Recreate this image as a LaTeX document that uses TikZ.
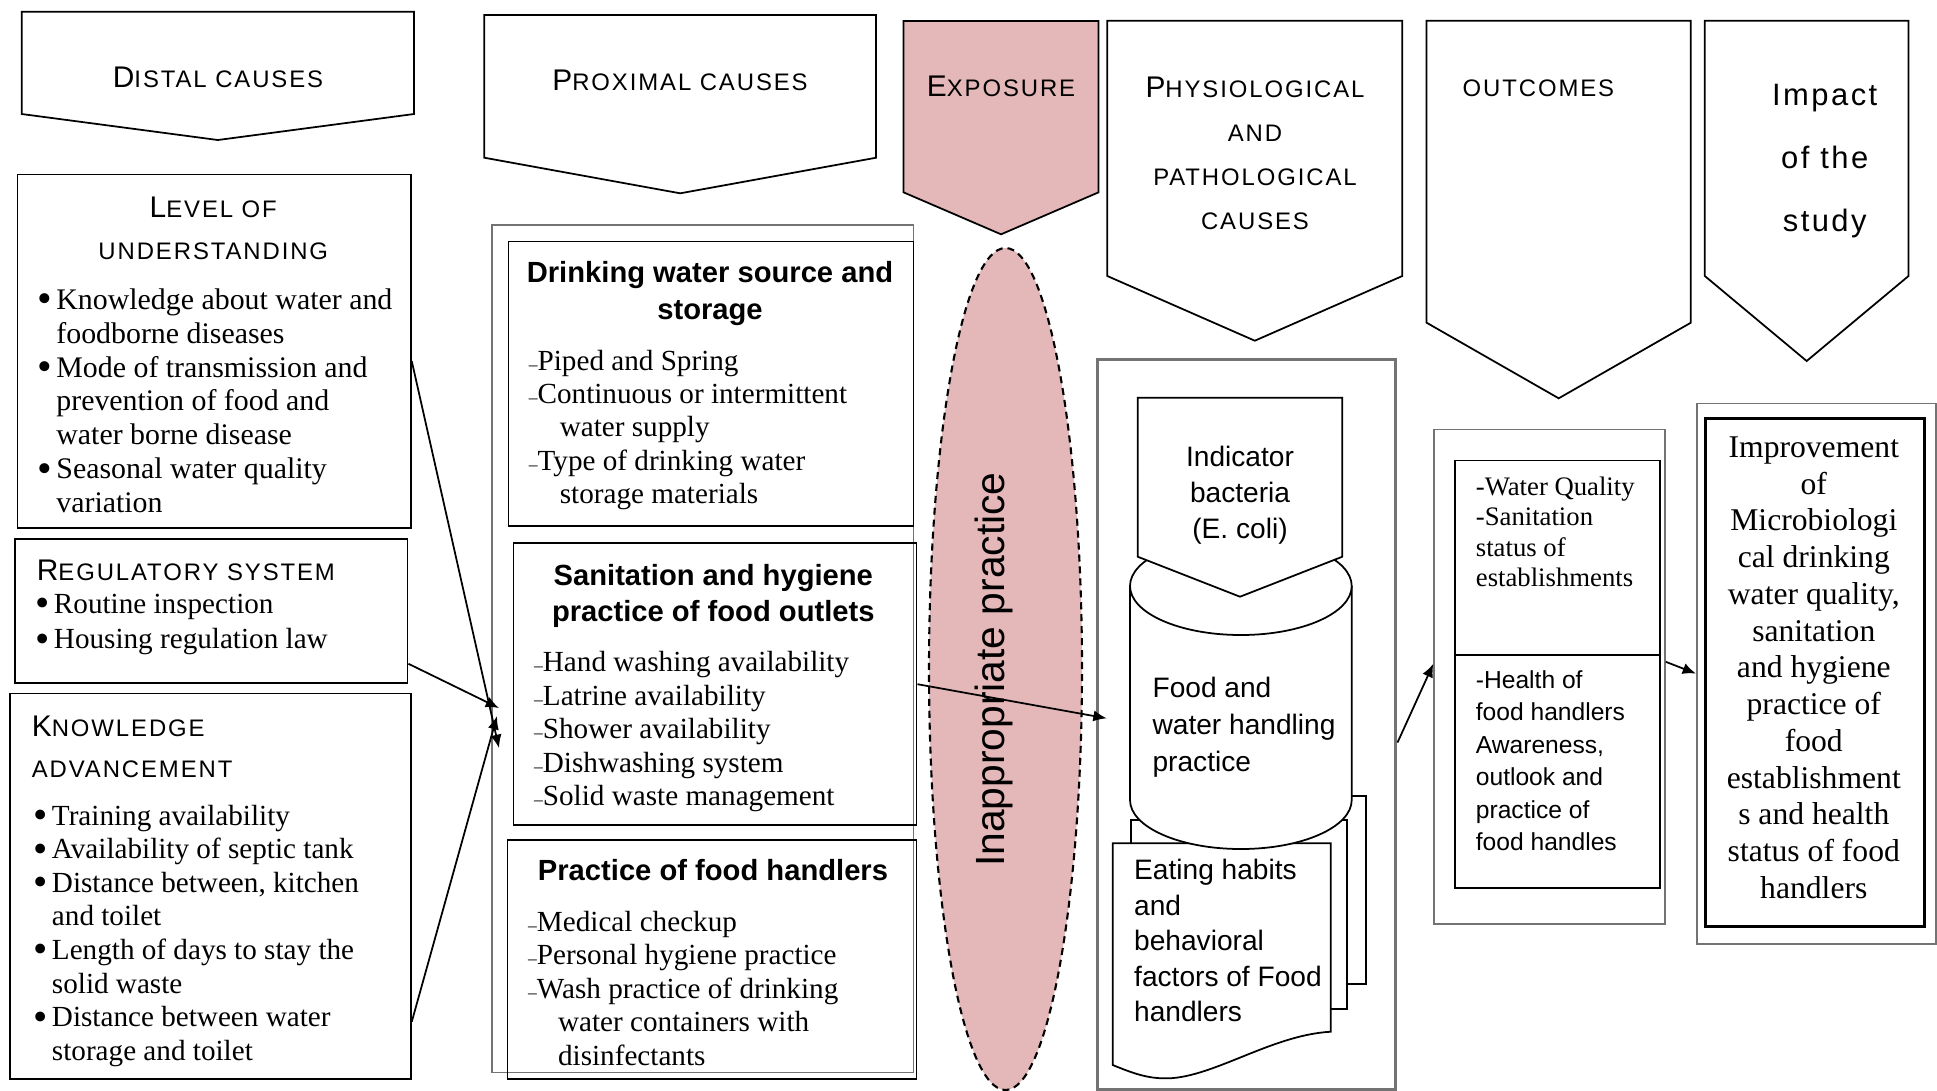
\documentclass[tikz,border=0pt]{standalone}
\usepackage{graphicx}
\usepackage{fontspec}
\setmainfont{Liberation Serif}
\setsansfont{Liberation Sans}
\newfontfamily\capsfont[LetterSpace=8]{Liberation Sans}
\usepackage{tikz}
\usetikzlibrary{arrows.meta,positioning,shapes.geometric}
\definecolor{expo}{RGB}{228,183,184}
\newcommand\bigc[1]{\scalebox{1.25}{#1}}
\newcommand\bi{\makebox[0.62em][l]{\raisebox{-0.12em}{\scalebox{1.4}{\textbullet}}}}
\newcommand\ind{\hspace*{0.62em}}
\newcommand\dsh{\scalebox{0.6}{\textendash}}

\begin{document}
\begin{tikzpicture}[x=1cm,y=-1cm,line width=0.5pt,every node/.style={inner sep=0pt}]
\tikzset{frame/.style 2 args={draw,anchor=north west,minimum width=#1,minimum height=#2},
gframe/.style 2 args={frame={#1}{#2},draw=black!55},
head/.style={align=center,font=\capsfont\fontsize{6.8}{12}\selectfont},
plist/.style={anchor=west,align=left,font=\fontsize{8.3}{9.5}\selectfont},
btitle/.style={align=center,font=\sffamily\bfseries\fontsize{8.3}{10.4}\selectfont},
stxt/.style={anchor=west,align=left,font=\sffamily\fontsize{8}{10.3}\selectfont},
conn/.style={-{Latex[length=3.8pt,width=3.2pt]}},
pics/.cd,
chevron/.style n args={3}{code={%
\path[pic actions] (0,0) -- (#1,0) -- (#1,#2) -- ({#1/2},{#2+#3}) -- (0,#2) -- cycle;
}}}
\path[use as bounding box,fill=white] (0,0) rectangle (19.37,10.9);

% headers
\pic[draw] at (0.217,0.117) {chevron={3.923}{1.023}{0.26}};
\pic[draw] at (4.843,0.15) {chevron={3.918}{1.427}{0.356}};
\pic[draw,fill=expo] at (9.035,0.21) {chevron={1.951}{1.713}{0.42}};
\pic[draw] at (11.073,0.207) {chevron={2.95}{2.553}{0.647}};
\pic[draw] at (14.266,0.207) {chevron={2.642}{3.02}{0.756}};
\pic[draw] at (17.048,0.207) {chevron={2.037}{2.553}{0.85}};

\node[head] (distal) at (2.18,0.77) {\bigc{D}ISTAL CAUSES};
\node[head] (proximal) at (6.80,0.80) {\bigc{P}ROXIMAL CAUSES};
\node[head] (exposure) at (10.01,0.867) {\bigc{E}XPOSURE};
\node[head,font=\capsfont\fontsize{6.8}{12.5}\selectfont] (physio) at (12.55,1.537) {\bigc{P}HYSIOLOGICAL\\AND\\PATHOLOGICAL\\CAUSES};
\node[head] (outcomes) at (15.384,0.883) {OUTCOMES};
\node[head,font=\capsfont\fontsize{8.8}{17.8}\selectfont] (impact) at (18.247,1.61) {Impact\\of the\\study};

% distal causes
\node[frame={3.933cm}{3.532cm}] (lvl) at (0.167,1.736) {};
\node[frame={3.924cm}{1.44cm}] (reg) at (0.143,5.38) {};
\node[frame={4.01cm}{3.853cm}] (know) at (0.09,6.927) {};

\node[head] (lvltitle) at (2.133,2.286) {\bigc{L}EVEL OF\\UNDERSTANDING};
\node[plist,font=\fontsize{8.5}{9.64}\selectfont] (lvllist) at (0.37,4.007) {\bi Knowledge about water and\\
\ind foodborne diseases\\
\bi Mode of transmission and\\
\ind prevention of food and\\
\ind water borne disease\\
\bi Seasonal water quality\\
\ind variation};
\node[head,anchor=west] (regtitle) at (0.36,5.708) {\bigc{R}EGULATORY SYSTEM};
\node[plist,font=\fontsize{8.3}{10}\selectfont] (reglist) at (0.35,6.244) {\bi Routine inspection\\
\bi Housing regulation law};
\node[head,anchor=west,align=left,font=\capsfont\fontsize{6.8}{11.5}\selectfont] (knowtitle) at (0.31,7.468) {\bigc{K}NOWLEDGE\\ADVANCEMENT};
\node[plist,font=\fontsize{8.3}{9.56}\selectfont] (knowlist) at (0.33,9.357) {\bi Training availability\\
\bi Availability of septic tank\\
\bi Distance between, kitchen\\
\ind and toilet\\
\bi Length of days to stay the\\
\ind solid waste\\
\bi Distance between water\\
\ind storage and toilet};

% proximal causes
\node[gframe={4.217cm}{8.477cm}] (prox) at (4.91,2.24) {};
\node[frame={4.05cm}{2.846cm}] (drink) at (5.077,2.407) {};
\node[frame={4.03cm}{2.82cm}] (sanit) at (5.127,5.423) {};
\node[frame={4.09cm}{2.393cm}] (pract) at (5.067,8.39) {};

\node[btitle] (drinktitle) at (7.10,2.935) {Drinking water source and\\storage};
\node[plist] (drinklist) at (5.28,4.30) {\dsh Piped and Spring\\
\dsh Continuous or intermittent\\
\hspace*{8.8pt}water supply\\
\dsh Type of drinking water\\
\hspace*{8.8pt}storage materials};
\node[btitle] (sanittitle) at (7.133,5.96) {Sanitation and hygiene\\practice of food outlets};
\node[plist] (sanitlist) at (5.333,7.317) {\dsh Hand washing availability\\
\dsh Latrine availability\\
\dsh Shower availability\\
\dsh Dishwashing system\\
\dsh Solid waste management};
\node[btitle] (practtitle) at (7.13,8.70) {Practice of food handlers};
\node[plist] (practlist) at (5.273,9.883) {\dsh Medical checkup\\
\dsh Personal hygiene practice\\
\dsh Wash practice of drinking\\
\hspace*{8.5pt}water containers with\\
\hspace*{8.5pt}disinfectants};

% exposure
\node[ellipse,draw,dash pattern=on 2pt off 1.4pt,line width=0.6pt,fill=expo,minimum width=1.53cm,minimum height=8.42cm] (inapp) at (10.055,6.69) {};
\node[rotate=90,font=\sffamily\fontsize{11.6}{14}\selectfont] (inapptxt) at (9.94,6.695) {Inappropriate practice};

% physiological and pathological causes
\node[gframe={2.983cm}{7.306cm},line width=0.9pt] (physbox) at (10.96,3.577) {};
\draw[fill=white] (11.49,7.96) rectangle (13.657,9.84);
\draw[fill=white] (11.307,8.20) rectangle (13.473,10.093);
\draw[fill=white] (11.127,8.433) -- (13.307,8.433) -- (13.307,10.317) .. controls (12.70,10.35) and (12.10,10.80) .. (11.633,10.783) .. controls (11.45,10.78) and (11.30,10.72) .. (11.127,10.65) -- cycle;
\draw[fill=white] (11.30,5.86) -- (11.30,8.00) arc[start angle=180,end angle=0,x radius=1.1085,y radius=0.49] -- (13.517,5.86);
\draw[fill=white] (12.4085,5.86) ellipse[x radius=1.1085,y radius=0.49];
\pic[draw,fill=white] at (11.377,3.977) {chevron={2.046}{1.59}{0.40}};

\node[align=center,font=\sffamily\fontsize{8}{10.2}\selectfont] (indic) at (12.40,4.955) {Indicator\\bacteria\\(E. coli)};
\node[stxt,font=\sffamily\fontsize{8}{10.5}\selectfont] (handling) at (11.517,7.27) {Food and\\water handling\\practice};
\node[stxt,font=\sffamily\fontsize{8}{10.1}\selectfont] (eating) at (11.333,9.405) {Eating habits\\and\\behavioral\\factors of Food\\handlers};

% outcomes
\node[gframe={2.307cm}{4.946cm}] (outbox) at (14.333,4.286) {};
\node[frame={2.05cm}{1.947cm}] (outup) at (14.543,4.596) {};
\node[frame={2.05cm}{2.328cm}] (outlow) at (14.543,6.543) {};
\node[anchor=west,align=left,font=\fontsize{7.6}{8.65}\selectfont] (outuptxt) at (14.75,5.32) {-Water Quality\\-Sanitation\\status of\\establishments};
\node[stxt,font=\sffamily\fontsize{7}{9.25}\selectfont] (outlowtxt) at (14.75,7.606) {-Health of\\food handlers\\Awareness,\\outlook and\\practice of\\food handles};

% impact
\node[gframe={2.39cm}{5.404cm}] (impbox) at (16.96,4.025) {};
\node[frame={2.19cm}{5.078cm},line width=0.9pt] (impin) at (17.043,4.168) {};
\node[align=center,font=\fontsize{9}{10.46}\selectfont] (imptxt) at (18.138,6.677) {Improvement\\of\\Microbiologi\\cal drinking\\water quality,\\sanitation\\and hygiene\\practice of\\food\\establishment\\s and health\\status of food\\handlers};

% connectors
\coordinate (tipreg) at (4.99,7.08);
\coordinate (tiplvl) at (4.99,7.48);
\coordinate (tipknow) at (4.97,7.16);
\coordinate (tipphys) at (11.067,7.183);
\draw[conn] ([yshift=-1mm]lvl.east) -- (tiplvl);
\draw[conn] ([yshift=2mm]reg.south east) -- (tipreg);
\draw[conn] ([yshift=5.8mm]know.south east) -- (tipknow);
\draw[conn] (sanit.east) -- (tipphys);
\draw[conn] ([yshift=-1.8mm]physbox.east) -- ([yshift=1.3mm]outbox.west);
\draw[conn] ([yshift=1.5mm]outbox.east) -- (impbox.west);
\end{tikzpicture}
\end{document}
